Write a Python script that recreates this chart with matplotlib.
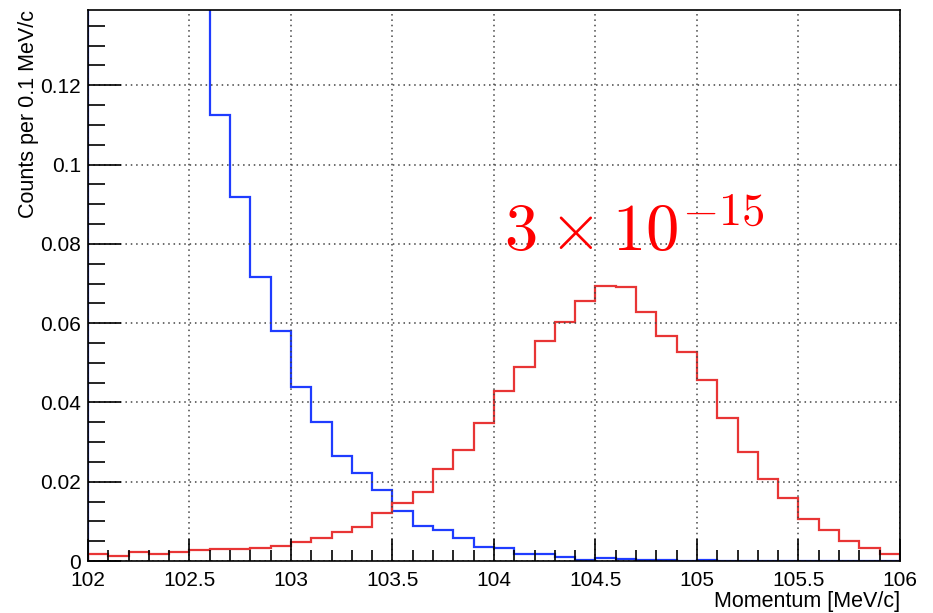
import numpy as np
import matplotlib.pyplot as plt
from matplotlib.ticker import MultipleLocator

# momentum binning, 0.1 MeV/c bins from 102 to 106
edges = np.round(np.arange(102.0, 106.01, 0.1), 2)

# DIO background (blue), counts per bin
dio = [0.40, 0.33, 0.265, 0.215, 0.175, 0.142, 0.1125, 0.0917, 0.0716, 0.0579,
       0.0439, 0.0350, 0.0266, 0.0221, 0.0179, 0.0125, 0.0088, 0.0077, 0.0059, 0.0036,
       0.0034, 0.0018, 0.0018, 0.0011, 0.0003, 0.0008, 0.0005, 0.0002, 0.0002, 0.0,
       0.0002, 0.0, 0.0, 0.0, 0.0, 0.0, 0.0, 0.0, 0.0, 0.0]

# conversion signal (red) for R = 3e-15
signal = [0.0018, 0.0013, 0.0022, 0.0018, 0.0022, 0.0027, 0.0030, 0.0030, 0.0034, 0.0037,
          0.0047, 0.0059, 0.0073, 0.0087, 0.0120, 0.0146, 0.0173, 0.0232, 0.0280, 0.0348,
          0.0428, 0.0490, 0.0554, 0.0604, 0.0655, 0.0694, 0.0690, 0.0628, 0.0568, 0.0527,
          0.0457, 0.0360, 0.0276, 0.0206, 0.0158, 0.0107, 0.0077, 0.0051, 0.0034, 0.0018]

plt.rcParams['font.family'] = ['Liberation Sans', 'DejaVu Sans']
plt.rcParams['mathtext.fontset'] = 'cm'

fig = plt.figure(figsize=(9.33, 6.13), dpi=100)
ax = fig.add_axes([0.0943, 0.0848, 0.8703, 0.8989])

ax.stairs(dio, edges, color='#1f3cff', lw=1.6)
ax.stairs(signal, edges, color='#e83535', lw=1.6)

ax.set_xlim(102, 106)
ax.set_ylim(0, 0.139)

ax.xaxis.set_major_locator(MultipleLocator(0.5))
ax.xaxis.set_minor_locator(MultipleLocator(0.1))
ax.yaxis.set_major_locator(MultipleLocator(0.02))
ax.yaxis.set_minor_locator(MultipleLocator(0.005))
ax.xaxis.set_major_formatter(plt.FuncFormatter(lambda v, p: f'{v:g}'))
ax.yaxis.set_major_formatter(plt.FuncFormatter(lambda v, p: f'{v:g}'))

ax.tick_params(axis='x', which='major', direction='in', length=16, width=1.2,
               labelsize=15, pad=7, top=False)
ax.tick_params(axis='x', which='minor', direction='in', length=8, width=1.2, top=False)
ax.tick_params(axis='y', which='major', direction='in', length=24, width=1.2,
               labelsize=15, pad=5, right=False)
ax.tick_params(axis='y', which='minor', direction='in', length=12, width=1.2, right=False)

ax.grid(True, which='major', linestyle=(0, (1, 2.5)), color='#444444', lw=1.1)
for s in ax.spines.values():
    s.set_linewidth(1.2)

ax.set_xlabel('Momentum [MeV/c]', fontsize=15.5, loc='right', labelpad=1)
ax.set_ylabel('Counts per 0.1 MeV/c', fontsize=15.5, loc='top', labelpad=1)

ax.text(104.05, 0.0783, r'$3\times10^{-15}$', color='red', fontsize=48)

fig.savefig('out.png', dpi=100)
